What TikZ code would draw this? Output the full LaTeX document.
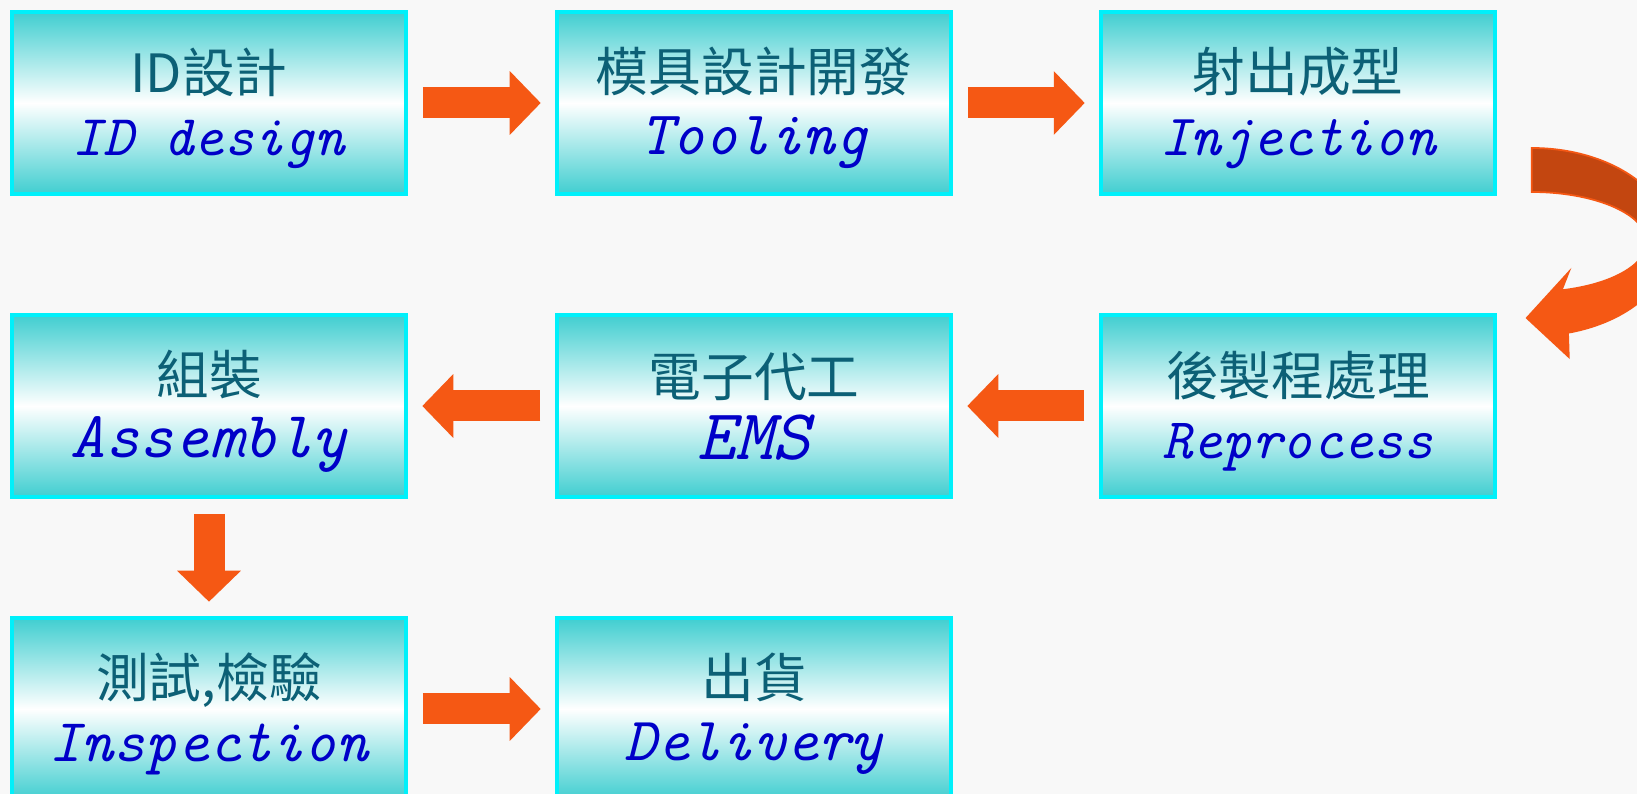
\documentclass[tikz,border=0pt]{standalone}
\usepackage{fontspec}
\usepackage{tikz}
\usetikzlibrary{arrows.meta,calc}

\newfontfamily\zhfont{Noto Sans CJK TC}
\newcommand\enfont{\ttfamily\itshape}

\definecolor{boxteal}{RGB}{64,206,208}
\definecolor{boxline}{RGB}{0,240,250}
\definecolor{zhtext}{RGB}{12,96,118}
\definecolor{entext}{RGB}{0,0,200}
\definecolor{arrorange}{RGB}{245,88,20}
\definecolor{arrdark}{RGB}{195,70,16}
\definecolor{paper}{RGB}{248,248,248}

\pgfdeclareverticalshading{curvshade}{100bp}{color(0bp)=(arrorange); color(25bp)=(arrorange); color(46bp)=(arrorange); color(55bp)=(arrdark); color(75bp)=(arrdark); color(100bp)=(arrdark)}

\newcommand\zh{\zhfont\color{zhtext}\rule{0pt}{15.5pt}}
\newcommand\en[1][17]{\enfont\color{entext}\fontsize{#1pt}{19.5pt}\selectfont\rule[-3pt]{0pt}{3pt}\ignorespaces}

\begin{document}
\begin{tikzpicture}
	\tikzstyle{stage}=[minimum width=3.94cm,minimum height=1.82cm,draw=boxline,line width=1pt,rectangle,
		top color=boxteal,bottom color=boxteal,middle color=white,align=center,
		font=\fontsize{15pt}{18pt}\selectfont]
	\tikzstyle{flow}=[-{Triangle[width=0.62cm,length=0.31cm]},line width=0.31cm,draw=arrorange,
		shorten <=0.15cm,shorten >=0.145cm]
	\tikzstyle{curvarrow}=[shading=curvshade,draw=arrorange,line width=0.5pt]

	\useasboundingbox (0,0) rectangle (16.37,7.94);
	\fill[paper] (0,0) rectangle (16.37,7.94);
	\clip (0,0) rectangle (16.37,7.94);

	\node[stage] (idd) at (2.09,6.91) {\zh ID設計\\\en[16.4] ID design};
	\node[stage] (tool) at (7.54,6.91) {\zh 模具設計開發\\\en[17.6] Tooling};
	\node[stage] (inj) at (12.98,6.91) {\zh 射出成型\\\en[16.6] Injection};

	\node[stage] (rep) at (12.98,3.88) {\zh 後製程處理\\\en[16.3] Reprocess};
	\node[stage] (ems) at (7.54,3.88) {\zh 電子代工\\\en[20.4] EMS};
	\node[stage] (asm) at (2.09,3.88) {\zh 組裝\\\en[18.7] Assembly};

	\node[stage] (insp) at (2.09,0.85) {\zh 測試,檢驗\\\en[17.3] Inspection};
	\node[stage] (dlv) at (7.54,0.85) {\zh 出貨\\\en[17.5] Delivery};

	\path (idd) edge[flow] (tool);
	\path (tool) edge[flow] (inj);
	\path (rep) edge[flow] (ems);
	\path (ems) edge[flow] (asm);
	\path (asm) edge[flow] (insp);
	\path (insp) edge[flow] (dlv);

	\coordinate (bend) at ($(inj.east)!0.5!(rep.east)+(0.35,0.125)$);
	\path[curvarrow] ($(bend)+(0,0.94)$) arc[start angle=90,end angle=-75,x radius=1.4,y radius=0.94]
		-- ($(bend)+(0.37,-1.15)$) -- ($(bend)+(-0.05,-0.76)$) -- ($(bend)+(0.37,-0.30)$)
		-- ($(bend)+(0.298,-0.483)$) arc[start angle=-75,end angle=90,x radius=1.15,y radius=0.5] -- cycle;
\end{tikzpicture}
\end{document}
